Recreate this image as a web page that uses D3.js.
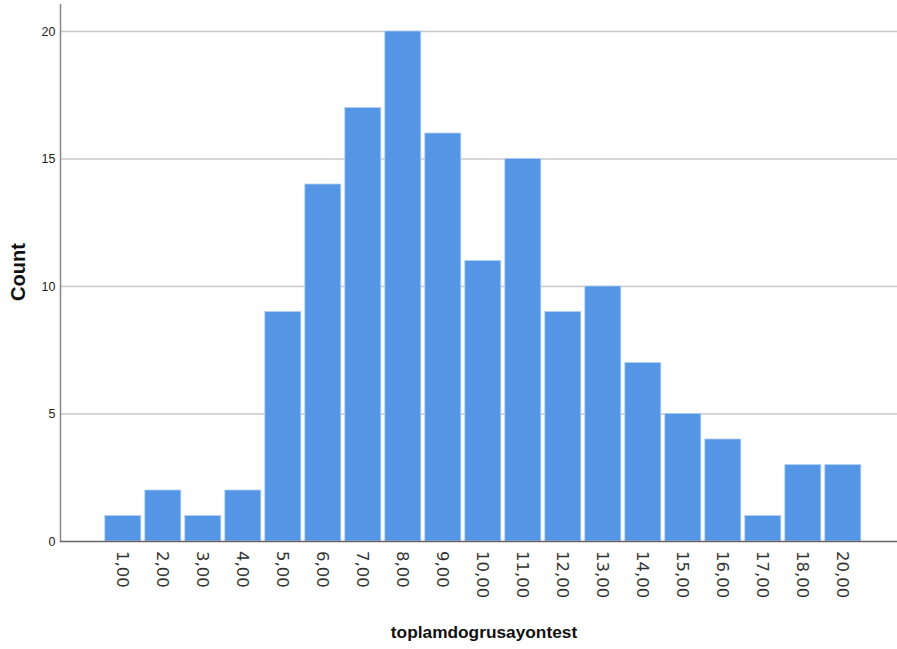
<!DOCTYPE html>
<html><head><meta charset="utf-8">
<script src="https://cdn.jsdelivr.net/npm/d3@7"></script>
<style>body{margin:0;background:#fff}svg{display:block}</style>
</head><body>
<script>
const categories = ["1,00","2,00","3,00","4,00","5,00","6,00","7,00","8,00","9,00","10,00","11,00","12,00","13,00","14,00","15,00","16,00","17,00","18,00","20,00"];
const counts = [1,2,1,2,9,14,17,20,16,11,15,9,10,7,5,4,1,3,3];
const yTicks = [0,5,10,15,20];

const W = 897, H = 649;
const svg = d3.select("body").append("svg").attr("width", W).attr("height", H);
const x0 = 61, x1 = 897, yTop = 4, yBase = 541;

const x = d3.scaleBand().domain(categories).range([102.8, 862.8]).paddingInner(0.1).paddingOuter(0.05);
const y = d3.scaleLinear().domain([0, 20]).range([yBase, 31]);

// gridlines
svg.append("g").selectAll("line").data(yTicks.filter(d => d > 0)).join("line")
  .attr("x1", x0).attr("x2", x1).attr("y1", d => y(d) + 0.5).attr("y2", d => y(d) + 0.5)
  .attr("stroke", "#c8c8c8").attr("stroke-width", 1.5);

// bars
svg.append("g").selectAll("rect").data(categories).join("rect")
  .attr("x", d => x(d)).attr("width", x.bandwidth())
  .attr("y", (d, i) => y(counts[i])).attr("height", (d, i) => yBase - y(counts[i]))
  .attr("fill", "#5595e5").attr("stroke", "#b3d0f3").attr("stroke-width", 0.8);

// y axis
const yAxis = svg.append("g").attr("transform", `translate(${x0 - 0.5},0)`)
  .call(d3.axisLeft(y).tickValues(yTicks).tickSize(0).tickPadding(5));
yAxis.select(".domain").remove();
yAxis.selectAll("text").attr("font-family", "Liberation Sans, Arial, sans-serif").attr("font-size", 12.5).attr("fill", "#222");
svg.append("line").attr("x1", x0 - 0.5).attr("x2", x0 - 0.5).attr("y1", yTop).attr("y2", yBase + 1)
  .attr("stroke", "#888").attr("stroke-width", 1.5);

// x axis
const xAxis = svg.append("g").attr("transform", `translate(0,${yBase})`)
  .call(d3.axisBottom(x).tickSize(0));
xAxis.select(".domain").remove();
svg.append("line").attr("x1", x0 - 1).attr("x2", x1).attr("y1", yBase + 0.5).attr("y2", yBase + 0.5)
  .attr("stroke", "#666").attr("stroke-width", 1.5);
xAxis.selectAll("text")
  .attr("font-family", "DejaVu Sans, sans-serif").attr("font-size", 16.5).attr("fill", "#333")
  .attr("transform", "rotate(90)")
  .attr("x", 10).attr("y", 0).attr("dy", "0.35em")
  .attr("text-anchor", "start");

// titles
svg.append("text").attr("transform", "translate(25,272) rotate(-90)")
  .attr("text-anchor", "middle").attr("font-family", "Liberation Sans, Arial, sans-serif")
  .attr("font-weight", "bold").attr("font-size", 20).attr("fill", "#111").text("Count");
svg.append("text").attr("x", 484).attr("y", 638)
  .attr("text-anchor", "middle").attr("font-family", "Liberation Sans, Arial, sans-serif")
  .attr("font-weight", "bold").attr("font-size", 17.3).attr("fill", "#111").text("toplamdogrusayontest");
</script>
</body></html>
